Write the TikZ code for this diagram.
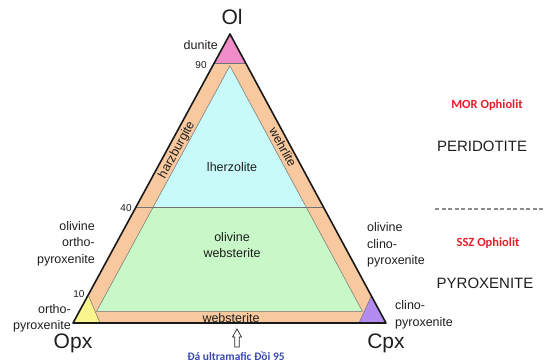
\documentclass[tikz,border=0pt]{standalone}
\usepackage{fontspec}
\setmainfont{Liberation Sans}
\newfontfamily\calib{Carlito}
\definecolor{peach}{RGB}{248,200,158}
\definecolor{pinkd}{RGB}{240,140,200}
\definecolor{cyanl}{RGB}{200,250,250}
\definecolor{greenl}{RGB}{200,248,200}
\definecolor{yell}{RGB}{248,246,140}
\definecolor{purp}{RGB}{180,140,240}
\definecolor{redt}{RGB}{230,30,40}
\definecolor{bluet}{RGB}{60,75,180}
\definecolor{txt}{RGB}{30,30,30}
\begin{document}
\begin{tikzpicture}[x=1pt,y=-1pt,
  small/.style={font=\fontsize{12.5}{16.5}\selectfont, text=txt, inner sep=0pt},
  num/.style={font=\fontsize{10}{12}\selectfont, text=txt, inner sep=0pt},
  big/.style={font=\fontsize{21}{24}\selectfont, text=txt, inner sep=0pt, anchor=base},
  rocktype/.style={font=\fontsize{15}{18}\selectfont, text=txt, inner sep=0pt},
  ophio/.style={font=\calib\bfseries\fontsize{12.5}{15}\selectfont, text=redt, inner sep=0pt},
  thinline/.style={draw=black!55, line width=0.5pt},
  outline/.style={draw=black!90, line width=1.6pt, line join=round}]
\useasboundingbox (0,0) rectangle (545,363);
% vertices
\coordinate (A) at (230,34);
\coordinate (B) at (73,323);
\coordinate (C) at (386,323);
% whole triangle peach
\fill[peach] (A) -- (B) -- (C) -- cycle;
% inner regions
\coordinate (iA) at (229.9,65.8);
\coordinate (iBL) at (96.5,311.4);
\coordinate (iBR) at (362.5,311.4);
\coordinate (iL40) at (153.0,207.4);
\coordinate (iR40) at (306.3,207.4);
\fill[cyanl] (iA) -- (iL40) -- (iR40) -- cycle;
\fill[greenl] (iL40) -- (iBL) -- (iBR) -- (iR40) -- cycle;
\draw[thinline] (iA) -- (iBL) -- (iBR) -- cycle;
% corner fields
\coordinate (d1) at (214.3,62.9);
\coordinate (d2) at (245.6,62.9);
\fill[pinkd] (A) -- (d1) -- (d2) -- cycle;
\coordinate (y1) at (88.7,296);
\coordinate (y2) at (100,323);
\fill[yell] (B) -- (y1) -- (y2) -- cycle;
\coordinate (p1) at (371.3,296);
\coordinate (p2) at (359,323);
\fill[purp] (C) -- (p1) -- (p2) -- cycle;
\draw[thinline] (d1) -- (d2);
\draw[thinline] (y1) -- (y2);
\draw[thinline] (p1) -- (p2);
\coordinate (L40) at (135.8,207.4);
\coordinate (R40) at (323.6,207.4);
\draw[thinline] (L40) -- (R40);
\draw[outline] (A) -- (B) -- (C) -- cycle;
% vertex labels
\node[big] (ol) at (232,25) {Ol};
\node[big] (opx) at (73,348) {Opx};
\node[big] (cpx) at (386,348) {Cpx};
% numbers
\node[num] (n90) at (201,65) {90};
\node[num] (n40) at (126,208) {40};
\node[num] (n10) at (79,294) {10};
% field labels
\node[small, anchor=east] (dun) at (218,45) {dunite};
\node[small, rotate=61.5] (harz) at (177,150) {harzburgite};
\node[small, rotate=-61.5] (wehr) at (283,147) {wehrlite};
\node[small] (lherz) at (232,167) {lherzolite};
\node[small, align=center] (olweb) at (232,245) {olivine\\websterite};
\node[small] (web) at (231,318) {websterite};
\node[small, anchor=east, align=right] (olopx) at (95,243.5) {olivine\\ortho-\\pyroxenite};
\node[small, anchor=east, align=right] (opxn) at (71,318.5) {ortho-\\pyroxenite};
\node[small, anchor=west, align=left] (olcpx) at (367,245) {olivine\\clino-\\pyroxenite};
\node[small, anchor=west, align=left] (cpxn) at (395,315) {clino-\\pyroxenite};
% right side
\node[ophio] (mor) at (487,105) {MOR Ophiolit};
\node[rocktype] (peri) at (482,146) {PERIDOTITE};
\coordinate (dl) at (435,209);
\coordinate (dr) at (545,209);
\draw[draw=black!45, line width=1.5pt, dash pattern=on 4pt off 2.5pt] (dl) -- (dr);
\node[ophio] (ssz) at (488,243) {SSZ Ophiolit};
\node[rocktype] (pyro) at (485,283) {PYROXENITE};
% bottom label and hollow arrow
\node[font=\calib\bfseries\fontsize{11.5}{14}\selectfont, text=bluet, inner sep=0pt] (src) at (236,356) {Đá ultramafic Đồi 95};
\coordinate (tip) at (237,329);
\draw[black!85, line width=0.7pt, fill=white, line join=miter]
  (tip) -- ++(4.5,8) -- ++(-2.3,0) -- ++(0,10) -- ++(-4.4,0) -- ++(0,-10) -- ++(-2.3,0) -- cycle;
\end{tikzpicture}
\end{document}
